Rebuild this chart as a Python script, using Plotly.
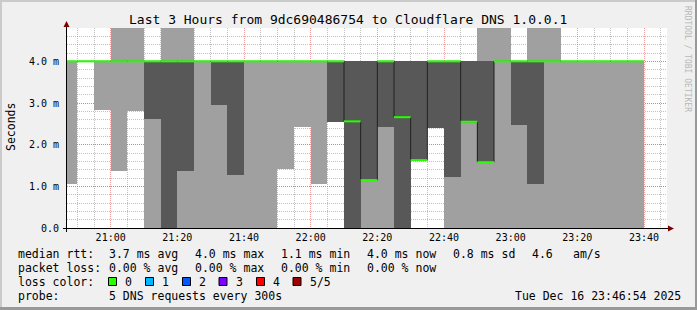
import plotly.graph_objects as go
import pandas as pd

# ---- data (ms) : one entry per 5-minute bin, bins start 20:45 ----
bin_start = pd.date_range("2025-12-16 20:45", periods=35, freq="5min")
light_lo = [1.06, 4.0, 2.83, 1.36, 2.80, 0.0, 0.0, 0.0, 0.0, 0.0, 0.0, 0.0, 0.0, 1.42, 2.43,
            1.06, 2.55, 0.0, 0.0, 0.0, 0.0, 1.63, 2.39, 0.0, 0.0, 0.0, 0.0, 0.0, 0.0, 0.0,
            0.0, 0.0, 0.0, 0.0, 0.0]
light_hi = [4.0, 4.0, 4.0, 5.2, 5.2, 4.0, 5.2, 5.2, 4.0, 4.0, 4.0, 4.0, 4.0, 4.0, 4.0,
            4.0, 4.0, 4.0, 4.0, 4.0, 4.0, 4.0, 4.0, 4.0, 4.0, 5.2, 5.2, 4.0, 5.2, 5.2,
            4.0, 4.0, 4.0, 4.0, 4.0]
dark_lo = [None, None, None, None, None, 2.62, 0.0, 1.36, None, 2.95, 1.28, None, None, None, None,
           None, 2.55, 0.0, 1.15, 2.42, 0.0, 1.63, 2.39, 1.22, 2.55, 1.58, None, 2.48, 1.06, None,
           None, None, None, None, None]
dark_hi = [None if d is None else 4.0 for d in dark_lo]
median = [4.0, 4.0, 4.0, 4.0, 4.0, 4.0, 4.0, 4.0, 4.0, 4.0, 4.0, 4.0, 4.0, 4.0, 4.0,
          4.0, 4.0, 2.56, 1.15, 4.0, 2.66, 1.63, 4.0, 4.0, 2.55, 1.58, 4.0, 4.0, 4.0, 4.0,
          4.0, 4.0, 4.0, 4.0, 4.0]

y_tickvals = [0, 1, 2, 3, 4]
y_ticktext = ["0.0", "1.0 m", "2.0 m", "3.0 m", "4.0 m"]

title = "Last 3 Hours from 9dc690486754 to Cloudflare DNS 1.0.0.1"
rtt_stats = ["3.7 ms avg", "4.0 ms max", "1.1 ms min", "4.0 ms now", "0.8 ms sd", "4.6", "am/s"]
loss_stats = ["0.00 % avg", "0.00 % max", "0.00 % min", "0.00 % now"]
loss_labels = ["0", "1", "2", "3", "4", "5/5"]
loss_colors = ["#26ff00", "#00b8ff", "#0059ff", "#7e00ff", "#ff0000", "#a10000"]
probe_text = "5 DNS requests every 300s"
stamp = "Tue Dec 16 23:46:54 2025"

LIGHT = "#a0a0a0"
DARK = "#585858"
FONT = "DejaVu Sans Mono"
W, H = 697, 310
L, T, PW, PH = 67, 28, 600, 200

def px(x):
    return (x - L) / PW

def py(y):
    return (T + PH - y) / PH

centers = bin_start + pd.Timedelta(minutes=2.5)
bw = 300000

fig = go.Figure()
fig.add_trace(go.Bar(
    x=centers, base=light_lo, y=[h - l for h, l in zip(light_hi, light_lo)],
    width=bw, marker=dict(color=LIGHT, line=dict(width=0)), showlegend=False,
    hoverinfo="skip"))
dx, dbase, dh = [], [], []
for c, lo, hi in zip(centers, dark_lo, dark_hi):
    if lo is not None:
        dx.append(c); dbase.append(lo); dh.append(hi - lo)
fig.add_trace(go.Bar(
    x=dx, base=dbase, y=dh, width=bw,
    marker=dict(color=DARK, line=dict(width=0)), showlegend=False, hoverinfo="skip"))

# median step line (dark)
step_x = list(bin_start) + [bin_start[-1] + pd.Timedelta(minutes=5)]
step_y = median + [median[-1]]
fig.add_trace(go.Scatter(x=step_x, y=step_y, mode="lines", line=dict(color="#202020", width=1, shape="hv"),
                         showlegend=False, hoverinfo="skip"))
# loss-coloured median segments
gx, gy = [], []
for s, m in zip(bin_start, median):
    gx += [s, s + pd.Timedelta(minutes=5), None]
    gy += [m, m, None]
fig.add_trace(go.Scatter(x=gx, y=gy, mode="lines", line=dict(color=loss_colors[0], width=2),
                         showlegend=False, hoverinfo="skip"))

minor_grid = "rgba(140,140,140,0.55)"
major_grid = "rgba(225,80,80,0.55)"

fig.update_layout(
    width=W, height=H, margin=dict(l=L, r=W - L - PW, t=T, b=H - T - PH),
    paper_bgcolor="#f0f0f0", plot_bgcolor="#ffffff", bargap=0, barmode="overlay",
    font=dict(family=FONT, color="#000000"),
    xaxis=dict(
        type="date", range=["2025-12-16 20:46:54", "2025-12-16 23:46:54"],
        tick0="2025-12-16 21:00", dtick=1200000, tickformat="%H:%M",
        showgrid=True, gridcolor=major_grid, griddash="1px,1px", gridwidth=1,
        minor=dict(tick0="2025-12-16 21:00", dtick=300000, showgrid=True,
                   gridcolor=minor_grid, griddash="1px,1px", gridwidth=1),
        showline=False, zeroline=False, ticks="", tickfont=dict(size=10, family=FONT),
        ticklabelstandoff=2, layer="above traces", fixedrange=True),
    yaxis=dict(
        range=[0, 4.8], tickvals=y_tickvals, ticktext=y_ticktext,
        showgrid=True, gridcolor=major_grid, griddash="1px,1px", gridwidth=1,
        minor=dict(dtick=0.2, showgrid=True, gridcolor=minor_grid, griddash="1px,1px", gridwidth=1),
        showline=False, zeroline=False, ticks="", tickfont=dict(size=10, family=FONT),
        ticklabelstandoff=7, layer="above traces", fixedrange=True),
)

shapes = []
# axis lines
shapes.append(dict(type="line", xref="paper", yref="paper", x0=px(63), x1=px(668), y0=py(228.5), y1=py(228.5),
                   line=dict(color="#000000", width=1), layer="above"))
shapes.append(dict(type="line", xref="paper", yref="paper", x0=px(66.5), x1=px(66.5), y0=py(232), y1=py(25),
                   line=dict(color="#000000", width=1), layer="above"))
# arrows
shapes.append(dict(type="path", xref="paper", yref="paper",
                   path=f"M {px(668)} {py(225.5)} L {px(674)} {py(228.5)} L {px(668)} {py(231.5)} Z",
                   fillcolor="#7f0000", line=dict(color="#7f0000", width=0), layer="above"))
shapes.append(dict(type="path", xref="paper", yref="paper",
                   path=f"M {px(63.5)} {py(27)} L {px(66.5)} {py(21)} L {px(69.5)} {py(27)} Z",
                   fillcolor="#7f0000", line=dict(color="#7f0000", width=0), layer="above"))
# frame shading
shapes.append(dict(type="rect", xref="paper", yref="paper", x0=px(0), x1=px(2), y0=py(0), y1=py(310),
                   fillcolor="#cbcbcb", line=dict(width=0), layer="below"))
shapes.append(dict(type="rect", xref="paper", yref="paper", x0=px(0), x1=px(697), y0=py(0), y1=py(2),
                   fillcolor="#cbcbcb", line=dict(width=0), layer="below"))
shapes.append(dict(type="rect", xref="paper", yref="paper", x0=px(695), x1=px(697), y0=py(0), y1=py(310),
                   fillcolor="#999999", line=dict(width=0), layer="below"))
shapes.append(dict(type="rect", xref="paper", yref="paper", x0=px(0), x1=px(697), y0=py(307), y1=py(310),
                   fillcolor="#999999", line=dict(width=0), layer="below"))
# loss colour boxes
box_x = [108.5, 145.5, 182.5, 219.0, 256.5, 293.0]
for bx, col in zip(box_x, loss_colors):
    shapes.append(dict(type="rect", xref="paper", yref="paper", x0=px(bx), x1=px(bx + 8),
                       y0=py(285.5), y1=py(277.5), fillcolor=col, line=dict(color="#000000", width=1)))
fig.update_layout(shapes=shapes)

ann = []
def text(x, y, s, size=11.5, anchor="left", angle=0, color="#000000"):
    ann.append(dict(xref="paper", yref="paper", x=px(x), y=py(y), text=s, showarrow=False,
                    xanchor=anchor, yanchor="middle", textangle=angle,
                    font=dict(family=FONT, size=size, color=color)))

text(348, 19, title, size=13, anchor="center")
text(10.5, 127.5, "Seconds", size=11.5, anchor="center", angle=-90)
text(688, 59, "RRDTOOL / TOBI OETIKER", size=8, anchor="center", angle=90, color="#b8b8b8")

row1 = 254.3
text(15.5, row1, "median rtt:")
for xx, s in zip([106.5, 192.5, 278.5, 364.5, 450.5, 529.5, 571], rtt_stats):
    text(xx, row1, s)
row2 = 268.3
text(15.5, row2, "packet loss:")
for xx, s in zip([106.5, 192.5, 278.5, 364.5], loss_stats):
    text(xx, row2, s)
row3 = 281.7
text(15.5, row3, "loss color:")
for xx, s in zip([122.5, 159.5, 196.5, 233.5, 270.5, 307.5], loss_labels):
    text(xx, row3, s)
row4 = 296
text(15.5, row4, "probe:")
text(106.5, row4, probe_text)
text(512.8, row4, stamp)
fig.update_layout(annotations=ann)

fig.write_html("out.html")
